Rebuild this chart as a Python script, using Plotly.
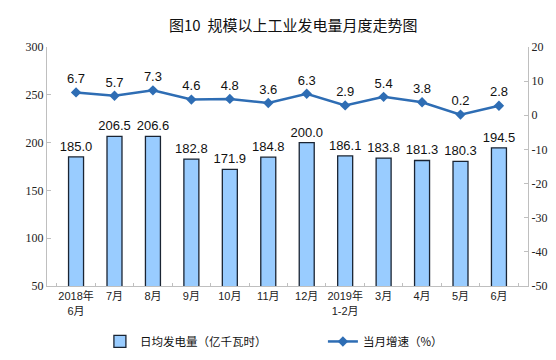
import plotly.graph_objects as go

categories = ["2018年<br>6月", "7月", "8月", "9月", "10月", "11月", "12月",
              "2019年<br>1-2月", "3月", "4月", "5月", "6月"]
daily_output = [185.0, 206.5, 206.6, 182.8, 171.9, 184.8, 200.0,
                186.1, 183.8, 181.3, 180.3, 194.5]
monthly_growth = [6.7, 5.7, 7.3, 4.6, 4.8, 3.6, 6.3, 2.9, 5.4, 3.8, 0.2, 2.8]
left_ticks = [50, 100, 150, 200, 250, 300]
right_ticks = [-50, -40, -30, -20, -10, 0, 10, 20]

bar_name = "日均发电量（亿千瓦时）"
line_name = "当月增速（%）"
title_text = "图10  规模以上工业发电量月度走势图"

cjk = "Noto Sans CJK SC"
sans = "Liberation Sans"
serif = "'Times New Roman', 'Liberation Serif', 'DejaVu Serif', serif"
xfont = "'Liberation Sans', 'Noto Sans CJK SC'"

fig = go.Figure()
fig.add_trace(go.Bar(
    x=categories, y=daily_output, name=bar_name,
    marker=dict(color="#99CCFF", line=dict(color="#1A2433", width=1.3)),
    width=0.39,
    text=[f"{v:.1f}" for v in daily_output], textposition="outside",
    constraintext="none",
    textfont=dict(family=sans, size=13, color="#111"),
    cliponaxis=False,
))
fig.add_trace(go.Scatter(
    x=categories, y=monthly_growth, name=line_name, yaxis="y2",
    mode="lines+markers+text",
    line=dict(color="#2E6DB4", width=2.5),
    marker=dict(symbol="diamond", size=8, color="#2E6DB4"),
    text=[f"{v:.1f}" for v in monthly_growth], textposition="top center",
    textfont=dict(family=sans, size=13, color="#111"),
    cliponaxis=False,
))

fig.update_layout(
    width=556, height=360,
    margin=dict(l=39, r=36, t=39, b=71),
    paper_bgcolor="white", plot_bgcolor="white",
    title=dict(text=title_text, x=0.513, xanchor="center", y=1 - 18 / 360,
               yanchor="middle", font=dict(family=cjk, size=15, color="#111")),
    showlegend=True,
    legend=dict(orientation="h", x=0.11, xanchor="left", y=-0.232, yanchor="middle",
                font=dict(family=cjk, size=11.5, color="#111"),
                entrywidth=178, entrywidthmode="pixels", traceorder="normal"),
    xaxis=dict(showline=True, linecolor="#BFBFBF", linewidth=1, tickangle=0,
               ticks="inside", tickson="boundaries", ticklen=3, tickcolor="#BFBFBF",
               tickfont=dict(family=xfont, size=11, color="#222"),
               showgrid=False),
    yaxis=dict(range=[50, 300], tickmode="array", tickvals=left_ticks,
               ticktext=[str(t) for t in left_ticks],
               showline=True, linecolor="#BFBFBF",
               ticks="inside", ticklen=4, tickcolor="#BFBFBF", showgrid=False,
               zeroline=False, tickfont=dict(family=serif, size=12, color="#222")),
    yaxis2=dict(range=[-50, 20], tickmode="array", tickvals=right_ticks,
                ticktext=[str(t) for t in right_ticks],
                overlaying="y", side="right",
                showline=True, linecolor="#BFBFBF", ticks="inside", ticklen=4,
                tickcolor="#BFBFBF", showgrid=False, zeroline=False,
                tickfont=dict(family=serif, size=12, color="#222")),
)

fig.write_html("out.html")
